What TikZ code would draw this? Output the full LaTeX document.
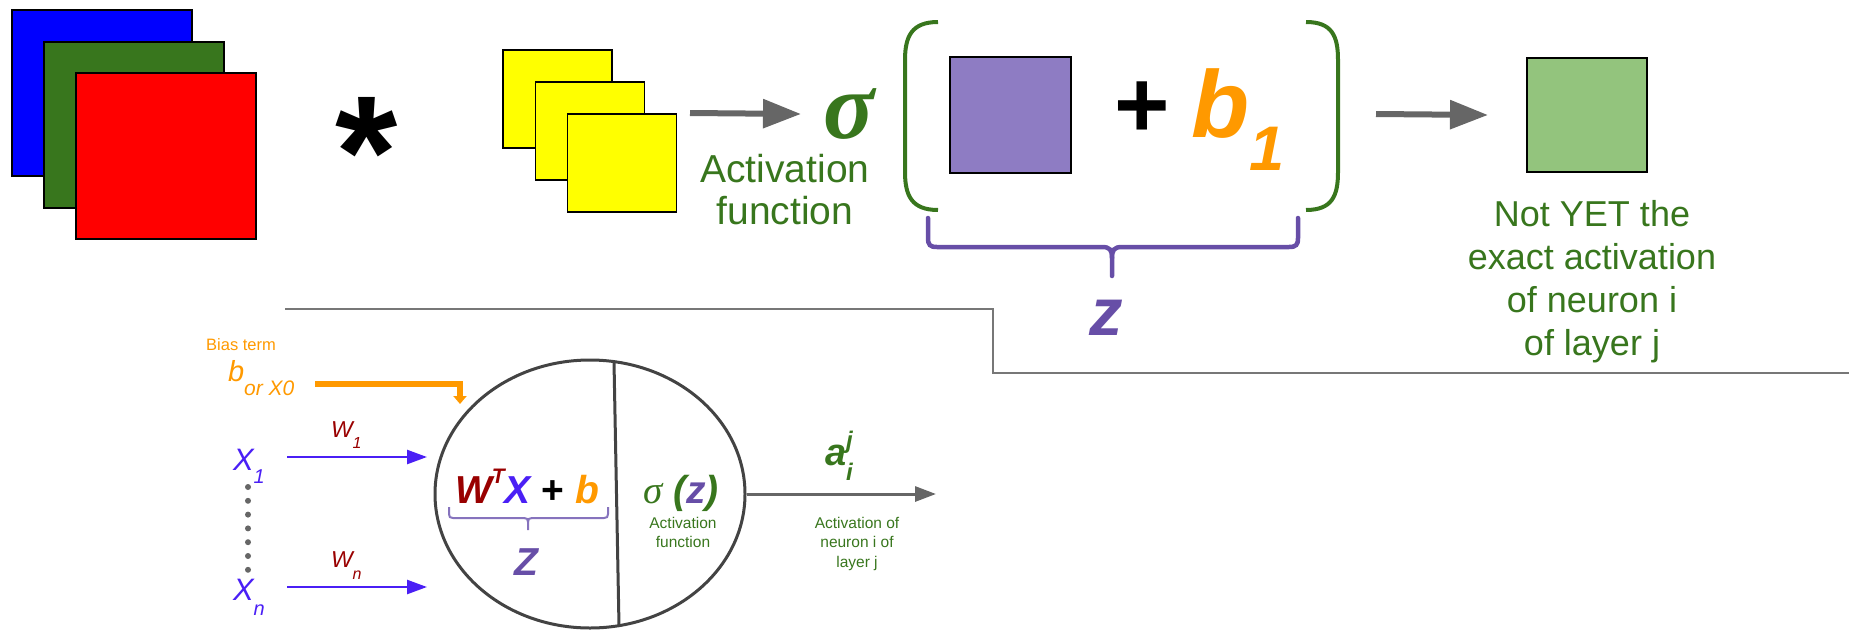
\documentclass[tikz,border=0pt]{standalone}
\usepackage{fontspec}
\setmainfont{Liberation Sans}
\newfontfamily\sigmafont{Liberation Serif}
\usetikzlibrary{arrows.meta,shapes.geometric}
\definecolor{dgreen}{HTML}{38761D}
\definecolor{cblue}{HTML}{0000FF}
\definecolor{cgreen}{HTML}{38761D}
\definecolor{cred}{HTML}{FF0000}
\definecolor{cyellow}{HTML}{FFFF00}
\definecolor{cpurple}{HTML}{674EA7}
\definecolor{lpurple}{HTML}{8E7CC3}
\definecolor{lgreen}{HTML}{93C47D}
\definecolor{corange}{HTML}{FF9900}
\definecolor{dred}{HTML}{990000}
\definecolor{vblue}{HTML}{4A1FF5}
\definecolor{agray}{HTML}{666666}
\definecolor{lgray}{HTML}{777777}
\definecolor{egray}{HTML}{434343}
\begin{document}
\begin{tikzpicture}[x=1pt,y=-1pt,
  sq/.style={draw=black, line width=1.5pt, inner sep=0pt, outer sep=0pt},
  graybig/.style={draw=agray, line width=6pt, -{Triangle[length=38pt,width=28pt]}},
  blueline/.style={draw=vblue, line width=2.5pt, -{Triangle[length=20pt,width=14pt]}},
  sepline/.style={draw=lgray, line width=2pt},
  txt/.style={inner sep=0pt, outer sep=0pt}
]
\useasboundingbox (0,0) rectangle (1849,629);

% input channels
\node[sq, fill=cblue, minimum width=180pt, minimum height=166pt] (chB) at (102,93) {};
\node[sq, fill=cgreen, minimum width=180pt, minimum height=166pt] (chG) at (134,125) {};
\node[sq, fill=cred, minimum width=180pt, minimum height=166pt] (chR) at (166,156) {};
\node[txt, anchor=base, font=\fontsize{160}{160}\selectfont\bfseries] (star) at (367,207) {*};

% filters
\node[sq, fill=cyellow, minimum width=109pt, minimum height=98pt] (f1) at (557.5,99) {};
\node[sq, fill=cyellow, minimum width=109pt, minimum height=98pt] (f2) at (590,131) {};
\node[sq, fill=cyellow, minimum width=109pt, minimum height=98pt] (f3) at (622,163) {};

\coordinate (a1s) at (690,113);
\coordinate (a1e) at (801,114);
\draw[graybig] (a1s) -- (a1e);

\node[txt, anchor=base, text=dgreen, font=\sigmafont\bfseries\itshape\fontsize{95}{95}\selectfont] (sigma) at (849,138) {σ};
\node[txt, anchor=base, align=center, text=dgreen, font=\fontsize{39}{42}\selectfont] (actfn) at (785,224) {Activation\\function};

% parentheses
\draw[dgreen, line width=4pt] (938,22) .. controls (912,22) and (905,36) .. (905,60) -- (905,172) .. controls (905,196) and (912,210) .. (938,210);
\draw[dgreen, line width=4pt] (1306,22) .. controls (1332,22) and (1338,36) .. (1338,60) -- (1338,172) .. controls (1338,196) and (1332,210) .. (1306,210);

\node[sq, fill=lpurple, minimum width=121pt, minimum height=116pt] (conv) at (1010.5,115) {};
\node[txt, anchor=base, font=\fontsize{95}{95}\selectfont\bfseries] (plus) at (1142,137) {+};
\node[txt, anchor=base west, text=corange, font=\fontsize{95}{95}\selectfont\bfseries\itshape] (bias1) at (1191,137) {b\raisebox{-33pt}{\fontsize{63}{63}\selectfont 1}};

% brace z
\draw[cpurple, line width=4.5pt, line cap=round]
  (928,218) -- (928,238) .. controls (928,245) and (930,247) .. (937,247) -- (1102,247) .. controls (1110,247) and (1112,250) .. (1112,258) -- (1112,276);
\draw[cpurple, line width=4.5pt, line cap=round]
  (1298,218) -- (1298,238) .. controls (1298,245) and (1296,247) .. (1289,247) -- (1122,247) .. controls (1114,247) and (1112,250) .. (1112,258);
\node[txt, anchor=base, text=cpurple, font=\fontsize{67}{67}\selectfont\bfseries\itshape] (zbig) at (1106,335) {z};

% separator lines
\draw[sepline] (285,309) -- (993,309) -- (993,373) -- (1849,373);

\coordinate (a2s) at (1376,114);
\coordinate (a2e) at (1488,115);
\draw[graybig] (a2s) -- (a2e);

\node[sq, fill=lgreen, minimum width=120pt, minimum height=114pt] (outsq) at (1587,115) {};
\node[txt, anchor=base, align=center, text=dgreen, font=\fontsize{36}{43}\selectfont] (outtxt) at (1592,355) {Not YET the\\exact activation\\of neuron i\\of layer j};

% ---------- lower neuron ----------
\node[txt, anchor=base, text=corange, font=\fontsize{16.5}{18}\selectfont] (biaslbl) at (241,350) {Bias term};
\node[txt, anchor=base west, text=corange, font=\fontsize{29}{29}\selectfont\itshape] (biasb) at (228,381) {b\raisebox{-14pt}{\fontsize{21}{21}\selectfont or X0}};

\node[draw=egray, line width=3pt, ellipse, minimum width=310pt, minimum height=268pt, inner sep=0pt] (neuron) at (590,494) {};
\draw[egray, line width=3pt] (614,362) -- (619,626);

\coordinate (bs) at (315,384);
\coordinate (bc) at (460,384);
\coordinate (be) at (460,404);
\draw[corange, line width=6pt, line join=miter, -{Triangle[length=8pt,width=13pt]}] (bs) -- (bc) -- (be);

\node[txt, anchor=base west, text=vblue, font=\fontsize{31}{31}\selectfont\itshape] (x1) at (233,470) {X\raisebox{-13pt}{\fontsize{20}{20}\selectfont 1}};
\node[txt, anchor=base west, text=vblue, font=\fontsize{31}{31}\selectfont\itshape] (xn) at (233,600) {X\raisebox{-15pt}{\fontsize{20}{20}\selectfont n}};
\node[txt, anchor=base west, text=dred, font=\fontsize{23}{23}\selectfont\itshape] (w1) at (331,437) {W\raisebox{-11pt}{\fontsize{16}{16}\selectfont 1}};
\node[txt, anchor=base west, text=dred, font=\fontsize{23}{23}\selectfont\itshape] (wn) at (331,567) {W\raisebox{-12pt}{\fontsize{16}{16}\selectfont n}};

\coordinate (b1s) at (287,457);
\coordinate (b1e) at (427,457);
\coordinate (bns) at (287,587);
\coordinate (bne) at (427,587);
\draw[blueline] (b1s) -- (b1e);
\draw[blueline] (bns) -- (bne);

\coordinate (d1) at (248,487);
\coordinate (d2) at (248,570);
\draw[agray, line width=6pt, line cap=round, dash pattern=on 0pt off 13.8pt] (d1) -- (d2);

\node[txt, anchor=base west, font=\fontsize{39}{39}\selectfont\bfseries\itshape] (formula) at (455,503)
  {\textcolor{dred}{W\raisebox{20pt}{\fontsize{21}{21}\selectfont T}}\textcolor{vblue}{X} {\upshape +} \textcolor{corange}{b}};
\draw[lpurple!80!cpurple, line width=2pt]
  (449,507) -- (449,514) .. controls (449,517) and (450,518) .. (453,518) -- (524,518) .. controls (527,518) and (528,519) .. (528,522) -- (528,530);
\draw[lpurple!80!cpurple, line width=2pt]
  (608,507) -- (608,514) .. controls (608,517) and (607,518) .. (604,518) -- (532,518) .. controls (529,518) and (528,519) .. (528,522);
\node[txt, anchor=base, text=cpurple, font=\fontsize{39}{39}\selectfont\bfseries\itshape] (zsmall) at (526,575) {Z};

\node[txt, anchor=base, text=dgreen, font=\fontsize{39}{39}\selectfont] (sigz) at (681,503)
  {{\sigmafont\itshape σ} {\bfseries\itshape (\textcolor{cpurple}{z})}};
\node[txt, anchor=base, align=center, text=dgreen, font=\fontsize{15.5}{19}\selectfont] (actsmall) at (683,547) {Activation\\function};

\coordinate (oute) at (936,494);
\draw[draw=agray, line width=3pt, -{Triangle[length=21pt,width=15pt]}] (neuron.east) -- (oute);

\node[txt, anchor=base west, text=dgreen, font=\fontsize{38}{38}\selectfont\bfseries\itshape] (aij) at (825,465)
  {a\rlap{\raisebox{17pt}{\fontsize{24}{24}\selectfont j}}\raisebox{-15pt}{\fontsize{24}{24}\selectfont i}};
\node[txt, anchor=base, align=center, text=dgreen, font=\fontsize{15.5}{19.5}\selectfont] (outsmall) at (857,567) {Activation of\\neuron i of\\layer j};
\end{tikzpicture}
\end{document}
